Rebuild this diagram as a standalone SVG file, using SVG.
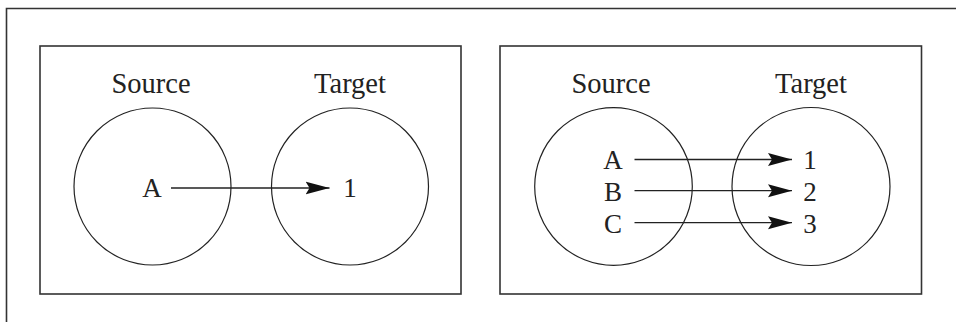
<svg xmlns="http://www.w3.org/2000/svg" width="956" height="322" viewBox="0 0 956 322">
  <style>
    .frame { fill: none; stroke: #333; stroke-width: 1.6; }
    .panel { fill: none; stroke: #333; stroke-width: 1.6; }
    .set { fill: none; stroke: #222; stroke-width: 1.2; }
    .link { fill: none; stroke: #222; stroke-width: 1.3; marker-end: url(#head); }
    .title { font-family: "Liberation Serif", "Times New Roman", serif; font-size: 28.5px; fill: #222; text-anchor: middle; }
    .item { font-family: "Liberation Serif", "Times New Roman", serif; font-size: 27px; fill: #222; text-anchor: middle; }
  </style>
  <defs>
    <marker id="head" markerUnits="userSpaceOnUse" viewBox="0 -8 26 16" refX="24" refY="0" markerWidth="26" markerHeight="16" orient="auto">
      <path d="M0,-6.5 L24,0 L0,6.5 L4,0 Z" fill="#111"/>
    </marker>
  </defs>
  <rect width="956" height="322" fill="#fff"/>

  <!-- open outer frame: top and left edges only -->
  <path class="frame" d="M6.5,322 V8.5 H956"/>

  <!-- single mapping: A to 1 -->
  <g id="panel-one-to-one">
    <rect class="panel" x="40" y="46" width="421" height="248"/>
    <g id="source-1">
      <circle class="set" cx="152.5" cy="186.5" r="78.5"/>
      <text class="title" x="151" y="93">Source</text>
      <text class="item" x="152" y="197">A</text>
    </g>
    <g id="target-1">
      <circle class="set" cx="350" cy="186.5" r="78.5"/>
      <text class="title" x="350" y="93">Target</text>
      <text class="item" x="350" y="197">1</text>
    </g>
  </g>

  <!-- multiple mappings: A, B, C to 1, 2, 3 -->
  <g id="panel-many">
    <rect class="panel" x="500" y="46" width="421.5" height="248"/>
    <g id="source-2">
      <circle class="set" cx="613.5" cy="186.5" r="78.8"/>
      <text class="title" x="611" y="93">Source</text>
      <text class="item" x="613" y="168.5">A</text>
      <text class="item" x="613" y="200.5">B</text>
      <text class="item" x="613" y="232.5">C</text>
    </g>
    <g id="target-2">
      <circle class="set" cx="811" cy="186.5" r="79"/>
      <text class="title" x="811" y="93">Target</text>
      <text class="item" x="810" y="168.5">1</text>
      <text class="item" x="810" y="200.5">2</text>
      <text class="item" x="810" y="232.5">3</text>
    </g>
  </g>

  <g id="connectors">
    <line class="link" x1="171" y1="188" x2="329.5" y2="188"/>
    <line class="link" x1="634.5" y1="159.5" x2="792" y2="159.5"/>
    <line class="link" x1="634.5" y1="190.7" x2="792" y2="190.7"/>
    <line class="link" x1="634.5" y1="222.7" x2="792" y2="222.7"/>
  </g>
</svg>
